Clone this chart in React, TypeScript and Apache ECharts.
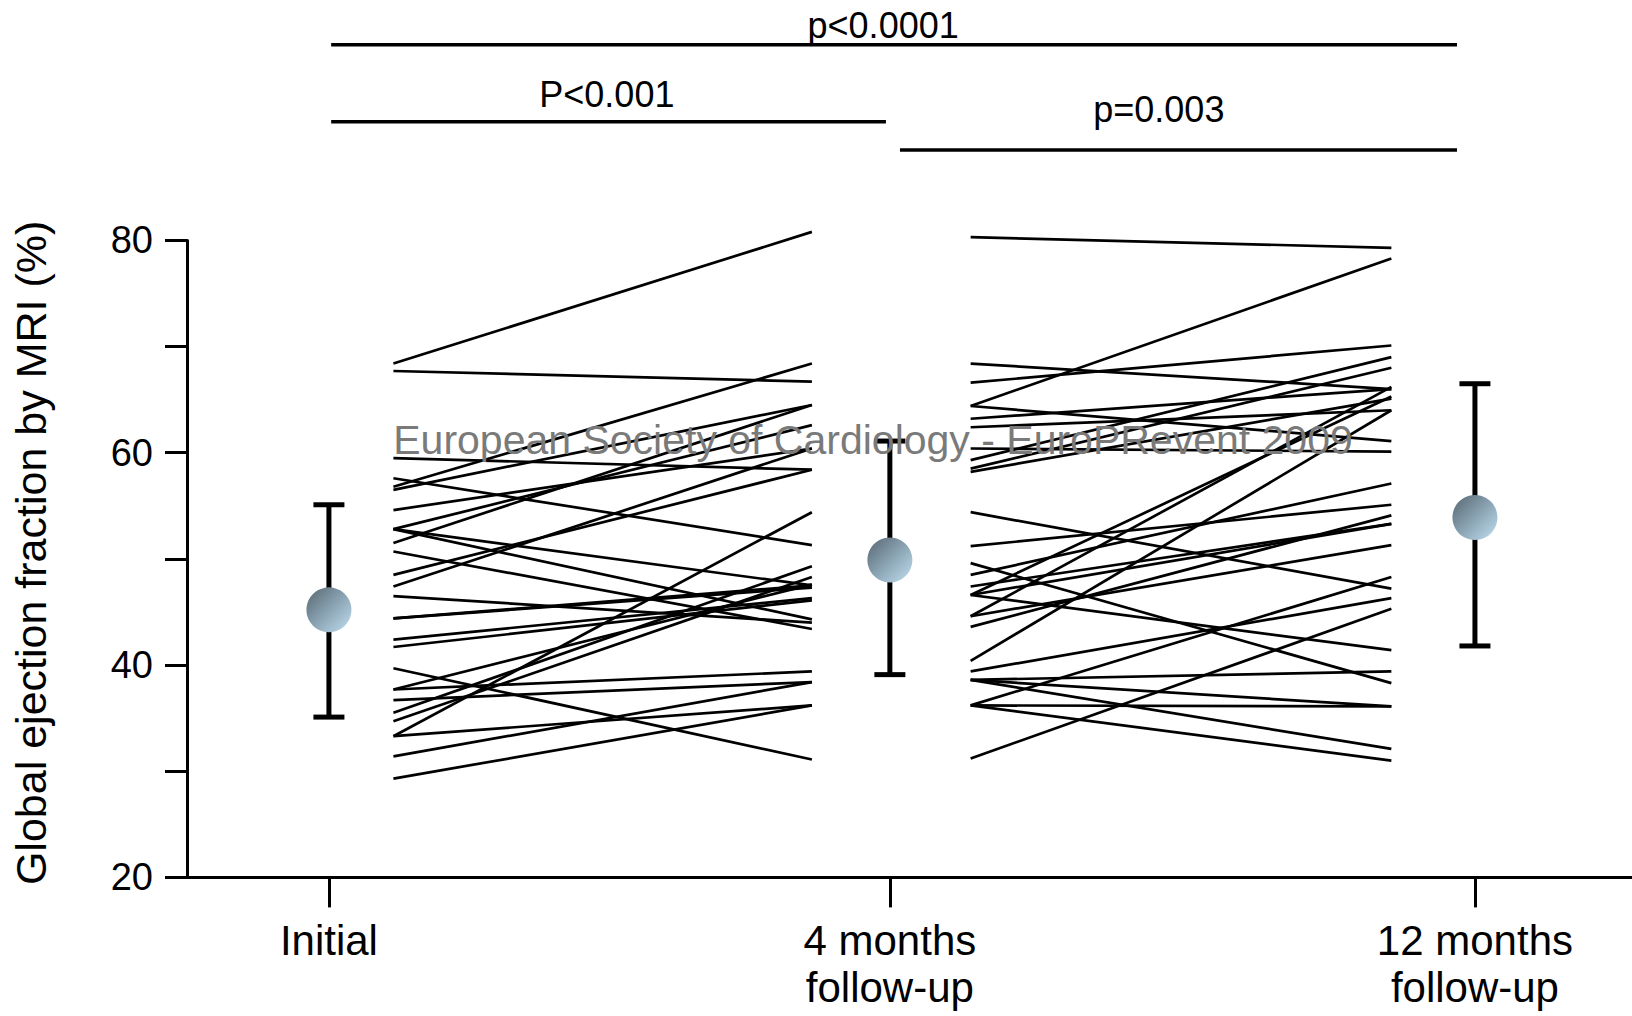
import React, { useEffect, useRef } from 'react';
import * as echarts from 'echarts';

// ---------- data ----------
const categories = ['Initial', '4 months\nfollow-up', '12 months\nfollow-up'];
const yTickLabels = [20, 40, 60, 80];

// group means with error bars
const meanEF = [45.2, 49.9, 53.9];
const lowerEF = [35.1, 39.1, 41.8];
const upperEF = [55.1, 61.1, 66.5];

// paired individual values: initial -> 4 months
const initialEF = [68.4, 67.7, 59.5, 57.6, 56.8, 56.5, 54.6, 52.8, 52.8, 52.8, 51.5, 50.7, 48.5, 47.4, 46.5, 44.4, 44.4, 42.4, 41.7, 39.7, 37.7, 37.7, 36.7, 35.5, 34.7, 33.3, 33.3, 31.4, 29.3];
const fourMonthEF_A = [80.8, 66.7, 58.4, 51.3, 68.4, 64.5, 60.4, 62.6, 47.5, 44.3, 64.5, 43.4, 58.4, 60.4, 44.0, 47.5, 47.3, 46.3, 46.1, 31.1, 39.4, 47.6, 38.4, 49.3, 48.3, 54.4, 36.2, 38.4, 36.2];

// paired individual values: 4 months -> 12 months
const fourMonthEF_B = [80.3, 68.4, 66.6, 64.4, 64.4, 63.2, 62.4, 60.4, 59.3, 58.5, 58.2, 54.4, 51.2, 49.6, 48.5, 47.4, 46.6, 46.6, 46.6, 44.6, 44.6, 43.6, 40.4, 39.4, 38.6, 38.6, 38.6, 36.2, 36.2, 36.2, 31.2];
const twelveMonthEF = [79.3, 66.0, 70.1, 78.3, 61.1, 66.0, 64.0, 60.1, 69.0, 68.0, 65.1, 47.2, 55.1, 38.3, 57.1, 53.3, 65.3, 41.4, 53.3, 66.2, 51.3, 54.1, 64.0, 46.3, 39.4, 36.1, 32.1, 36.1, 48.3, 31.0, 45.3];

// significance annotations
const sigLabels = ['p<0.0001', 'P<0.001', 'p=0.003'];

const watermarkText = 'European Society of Cardiology - EuroPRevent 2009';
const yTitle = 'Global ejection fraction by MRI (%)';

// ---------- layout ----------
const FONT = 'Liberation Sans, Arial, sans-serif';
const catX = [0, 1, 2.043];
const seg1 = [0.115, 0.861];
const seg2 = [1.144, 1.894];
const sigLayout = [
  { x0: 0.004, x1: 2.011, tx: 0.988, lineY: 44.8, textY: 25 },
  { x0: 0.004, x1: 0.993, tx: 0.4955, lineY: 121.8, textY: 94.7 },
  { x0: 1.018, x1: 2.011, tx: 1.4795, lineY: 150, textY: 109 },
];

export default function App() {
  const ref = useRef<HTMLDivElement>(null);

  useEffect(() => {
    if (!ref.current) return;
    const chart = echarts.init(ref.current, undefined, { renderer: 'svg' });

    const pairs1 = initialEF.map((v, i) => [seg1[0], v, seg1[1], fourMonthEF_A[i]]);
    const pairs2 = fourMonthEF_B.map((v, i) => [seg2[0], v, seg2[1], twelveMonthEF[i]]);

    const pairRender = (params: any, api: any) => {
      const p0 = api.coord([api.value(0), api.value(1)]);
      const p1 = api.coord([api.value(2), api.value(3)]);
      return {
        type: 'line',
        shape: { x1: p0[0], y1: p0[1], x2: p1[0], y2: p1[1] },
        style: { stroke: '#000', lineWidth: 2.7 },
      };
    };

    const errData = catX.map((x, i) => [x, lowerEF[i], upperEF[i]]);
    const sigData = sigLabels.map((_, i) => [sigLayout[i].x0, sigLayout[i].x1, sigLayout[i].tx, i]);

    const labelFor = (v: number) => {
      const idx = catX.findIndex((c) => Math.abs(c - v) < 1e-6);
      return idx >= 0 ? categories[idx] : '';
    };

    chart.setOption({
      animation: false,
      textStyle: { fontFamily: FONT },
      grid: { left: 187, right: 0, top: 240.4, bottom: 138.6, containLabel: false },
      xAxis: {
        type: 'value',
        min: -0.253,
        max: 2.323,
        axisLine: { onZero: false, lineStyle: { color: '#000', width: 3 } },
        axisTick: { show: true, customValues: catX, length: 30, lineStyle: { color: '#000', width: 3 } },
        axisLabel: {
          customValues: catX,
          formatter: (v: number) => labelFor(v),
          fontSize: 42,
          lineHeight: 47,
          color: '#000',
          margin: 40,
          fontFamily: FONT,
        },
        splitLine: { show: false },
      },
      yAxis: {
        type: 'value',
        min: 20,
        max: 80,
        interval: 10,
        name: yTitle,
        nameLocation: 'middle',
        nameGap: 135,
        nameRotate: 90,
        nameTextStyle: { fontSize: 43, color: '#000', fontFamily: FONT, padding: [0, 0, 0, 12] },
        axisLine: { show: true, onZero: false, lineStyle: { color: '#000', width: 3 } },
        axisTick: { show: true, length: 22, lineStyle: { color: '#000', width: 3 } },
        axisLabel: {
          formatter: (v: number) => (yTickLabels.includes(v) ? String(v) : ''),
          fontSize: 38,
          color: '#000',
          margin: 34,
          fontFamily: FONT,
        },
        splitLine: { show: false },
      },
      graphic: [
        {
          type: 'text',
          x: 873,
          y: 440,
          z: 100,
          silent: true,
          style: {
            text: watermarkText,
            fontSize: 41,
            fontFamily: FONT,
            fill: '#7a7a7a',
            align: 'center',
            verticalAlign: 'middle',
          },
        },
      ],
      series: [
        {
          type: 'custom',
          name: 'initial-4m',
          renderItem: pairRender,
          data: pairs1,
          encode: { x: [0, 2], y: [1, 3] },
          silent: true,
          z: 2,
        },
        {
          type: 'custom',
          name: '4m-12m',
          renderItem: pairRender,
          data: pairs2,
          encode: { x: [0, 2], y: [1, 3] },
          silent: true,
          z: 2,
        },
        {
          type: 'custom',
          name: 'errorbars',
          data: errData,
          encode: { x: 0, y: [1, 2] },
          silent: true,
          z: 3,
          renderItem: (params: any, api: any) => {
            const lo = api.coord([api.value(0), api.value(1)]);
            const hi = api.coord([api.value(0), api.value(2)]);
            const half = 15.5;
            const st = { stroke: '#000', lineWidth: 5 };
            return {
              type: 'group',
              children: [
                { type: 'line', shape: { x1: lo[0], y1: lo[1], x2: hi[0], y2: hi[1] }, style: st },
                { type: 'line', shape: { x1: lo[0] - half, y1: lo[1], x2: lo[0] + half, y2: lo[1] }, style: st },
                { type: 'line', shape: { x1: hi[0] - half, y1: hi[1], x2: hi[0] + half, y2: hi[1] }, style: st },
              ],
            };
          },
        },
        {
          type: 'scatter',
          name: 'mean',
          data: catX.map((x, i) => [x, meanEF[i]]),
          symbol: 'circle',
          symbolSize: 45,
          z: 5,
          silent: true,
          itemStyle: {
            opacity: 1,
            color: new echarts.graphic.LinearGradient(0, 0, 1, 1, [
              { offset: 0, color: '#56656f' },
              { offset: 0.55, color: '#8fa9b9' },
              { offset: 1, color: '#c2e0f0' },
            ]),
          },
        },
        {
          type: 'custom',
          name: 'significance',
          data: sigData,
          encode: { x: [0, 1] },
          silent: true,
          z: 4,
          renderItem: (params: any, api: any) => {
            const i = api.value(3);
            const L = sigLayout[i];
            const a = api.coord([api.value(0), 50]);
            const b = api.coord([api.value(1), 50]);
            const t = api.coord([api.value(2), 50]);
            return {
              type: 'group',
              children: [
                {
                  type: 'line',
                  shape: { x1: a[0], y1: L.lineY, x2: b[0], y2: L.lineY },
                  style: { stroke: '#000', lineWidth: 3.5 },
                },
                {
                  type: 'text',
                  x: t[0],
                  y: L.textY,
                  style: {
                    text: sigLabels[i],
                    fontSize: 36,
                    fontFamily: FONT,
                    fill: '#000',
                    align: 'center',
                    verticalAlign: 'middle',
                  },
                },
              ],
            };
          },
        },
      ],
    });

    return () => {
      chart.dispose();
    };
  }, []);

  return (
    <div
      ref={ref}
      style={{ position: 'fixed', left: 0, top: 0, width: '1632px', height: '1016px', background: '#fff' }}
    />
  );
}
